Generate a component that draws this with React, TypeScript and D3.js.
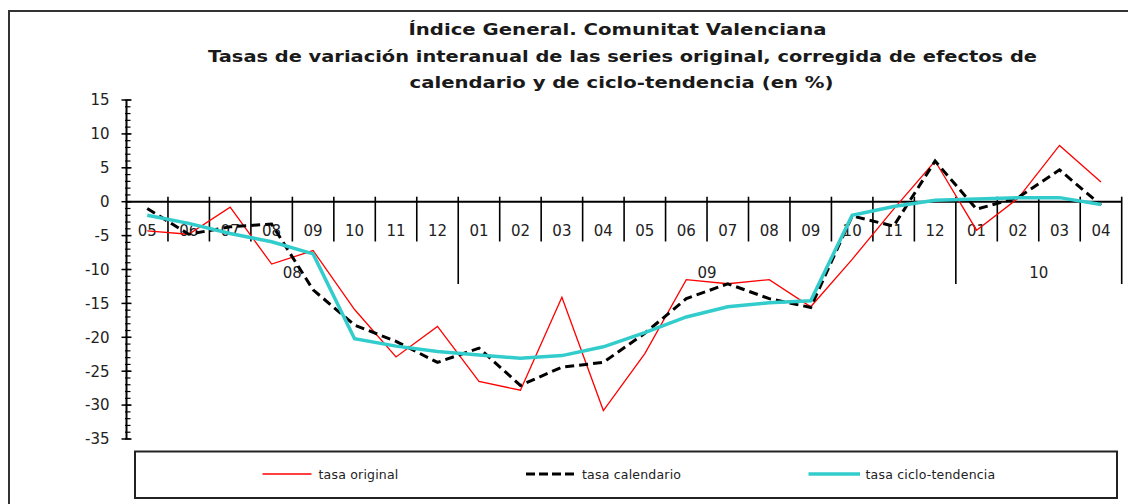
import React from "react";
import * as d3 from "d3";

const months = ["05","06","07","08","09","10","11","12","01","02","03","04","05","06","07","08","09","10","11","12","01","02","03","04"];
const years = [
  { label: "08", start: 0, end: 8 },
  { label: "09", start: 8, end: 20 },
  { label: "10", start: 20, end: 24 },
];
const tasaOriginal = [-4.3,-4.8,-0.8,-9.2,-7.2,-15.9,-22.9,-18.4,-26.5,-27.8,-14.1,-30.8,-22.4,-11.5,-12.1,-11.5,-15.5,-8.5,-1.1,6.0,-4.2,0.5,8.3,2.9];
const tasaCalendario = [-1.0,-4.8,-3.7,-3.3,-13.0,-18.2,-20.6,-23.7,-21.6,-27.1,-24.4,-23.7,-19.4,-14.3,-12.1,-14.3,-15.6,-2.1,-3.6,6.0,-1.1,0.6,4.7,-0.5];
const tasaCiclo = [-2.0,-3.2,-4.7,-5.9,-7.7,-20.2,-21.3,-22.1,-22.6,-23.1,-22.7,-21.4,-19.3,-17.0,-15.5,-14.9,-14.6,-2.0,-0.7,0.2,0.4,0.6,0.6,-0.4];
const yTicks = [15,10,5,0,-5,-10,-15,-20,-25,-30,-35];
const titleLines = [
  "Índice General. Comunitat Valenciana",
  "Tasas de variación interanual de las series original, corregida de efectos de",
  "calendario y de ciclo-tendencia (en %)",
];
const legendItems = ["tasa original", "tasa calendario", "tasa ciclo-tendencia"];

const FONT = "'DejaVu Sans', Verdana, sans-serif";

export default function App() {
  const x0 = 126.5, x1 = 1121.7;
  const x = d3.scaleBand<number>().domain(d3.range(months.length)).range([x0, x1]).padding(0);
  const y = d3.scaleLinear().domain([-35, 15]).range([439, 100]);
  const cx = (i: number) => (x(i) as number) + x.bandwidth() / 2;
  const line = d3.line<number>().x((_, i) => cx(i)).y((d) => y(d));
  const minor = d3.range(-35, 15.01, 1);
  const y0 = y(0);
  const bounds = d3.range(months.length + 1).map((i) => (i < months.length ? (x(i) as number) : x1));
  const yearBounds = new Set(years.map((g) => g.end));

  const titleSpans = [
    { x: 617.5, y: 35, w: 418 },
    { x: 622.5, y: 62, w: 829 },
    { x: 621.5, y: 88, w: 424 },
  ];

  return (
    <svg width={1128} height={504} style={{ position: "absolute", left: 0, top: 0, background: "#fff" }} fontFamily={FONT}>
      <rect x={9} y={11} width={1130} height={500} fill="#fff" stroke="#333" strokeWidth={2} />
      {titleLines.map((t, i) => (
        <text key={i} x={titleSpans[i].x} y={titleSpans[i].y} textAnchor="middle" fontWeight="bold" fontSize={15.5}
          textLength={titleSpans[i].w} lengthAdjust="spacingAndGlyphs" fill="#1a1a1a">{t}</text>
      ))}
      {/* y axis */}
      <line x1={x0} x2={x0} y1={y(15)} y2={y(-35)} stroke="#000" strokeWidth={2} />
      {minor.map((v) => (
        <line key={"m" + v} x1={x0 - 1.5} x2={x0 + 4} y1={y(v)} y2={y(v)} stroke="#000" strokeWidth={1.2} />
      ))}
      {yTicks.map((v) => (
        <g key={"t" + v}>
          <line x1={x0 - 5} x2={x0 + 5} y1={y(v)} y2={y(v)} stroke="#000" strokeWidth={1.5} />
          <text x={109.5} y={y(v) + 5.3} textAnchor="end" fontSize={15} fill="#222">{v}</text>
        </g>
      ))}
      {/* x axis */}
      <line x1={x0} x2={x1} y1={y0} y2={y0} stroke="#000" strokeWidth={2} />
      {bounds.map((bx, i) => (i === 0 ? null : (
        <line key={"b" + i} x1={bx} x2={bx} y1={y0 - 5} y2={yearBounds.has(i) ? 284 : 241.5} stroke="#000" strokeWidth={1.6} />
      )))}
      {months.map((m, i) => (
        <text key={"c" + i} x={cx(i)} y={235.5} textAnchor="middle" fontSize={15} fill="#222">{m}</text>
      ))}
      {years.map((g) => (
        <text key={"y" + g.label} x={(bounds[g.start] + bounds[g.end]) / 2} y={277.5} textAnchor="middle" fontSize={15} fill="#222">{g.label}</text>
      ))}
      {/* series */}
      <path d={line(tasaOriginal) as string} fill="none" stroke="#ff0000" strokeWidth={1.3} />
      <path d={line(tasaCalendario) as string} fill="none" stroke="#000" strokeWidth={3} strokeDasharray="9,5" />
      <path d={line(tasaCiclo) as string} fill="none" stroke="#33cccc" strokeWidth={3.5} />
      {/* legend */}
      <rect x={135} y={451.5} width={982} height={46.5} fill="#fff" stroke="#222" strokeWidth={2} />
      <line x1={262.5} x2={311.5} y1={474} y2={474} stroke="#ff0000" strokeWidth={1.5} />
      <text x={318.5} y={478.5} fontSize={12.5} letterSpacing={0.2} fill="#222">{legendItems[0]}</text>
      <line x1={526} x2={577} y1={474} y2={474} stroke="#000" strokeWidth={3} strokeDasharray="9,4,9,4,9,4,9,4,3,4" />
      <text x={582} y={478.5} fontSize={12.5} letterSpacing={0.2} fill="#222">{legendItems[1]}</text>
      <line x1={808.5} x2={860} y1={474} y2={474} stroke="#33cccc" strokeWidth={3.5} />
      <text x={865.5} y={478.5} fontSize={12.5} letterSpacing={0.2} fill="#222">{legendItems[2]}</text>
    </svg>
  );
}
